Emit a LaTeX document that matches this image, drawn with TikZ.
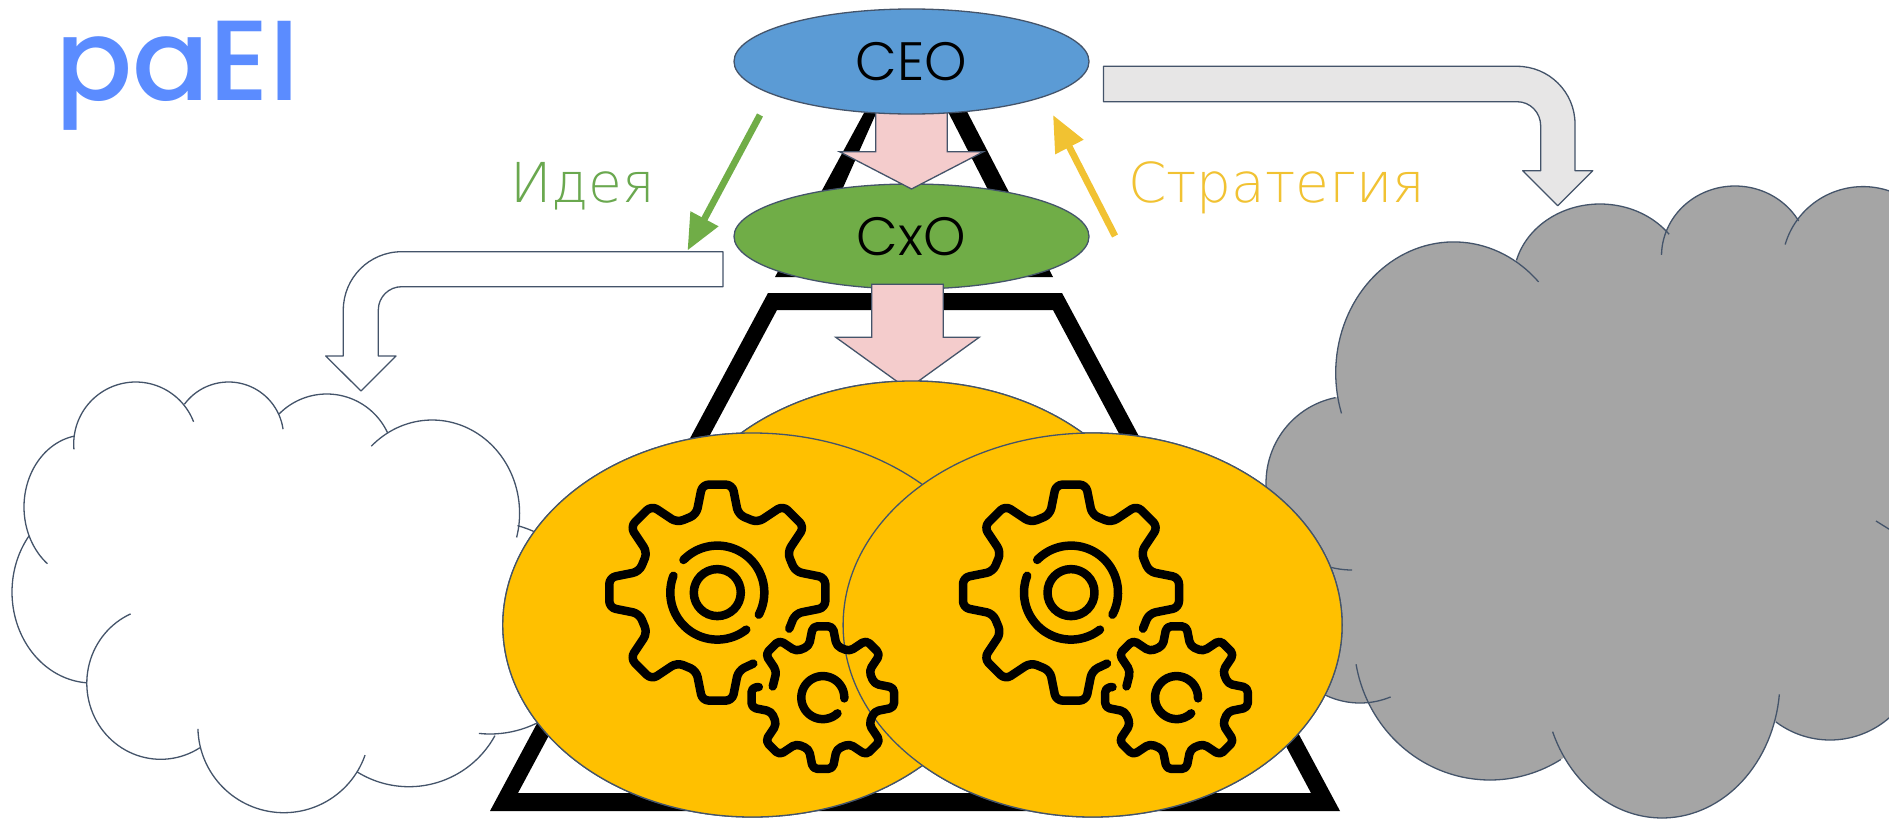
\documentclass[tikz,border=0pt]{standalone}
\usepackage{fontspec}
\usetikzlibrary{shapes.geometric,arrows.meta,calc}
\newfontfamily\logofont{Poppins Medium}
\newfontfamily\lightfont{Poppins Light}
\newfontfamily\cyrfont{DejaVu Sans ExtraLight}
\definecolor{outl}{HTML}{44546A}
\definecolor{ceoblue}{HTML}{5B9BD5}
\definecolor{cxogreen}{HTML}{70AD47}
\definecolor{gold}{HTML}{FFC000}
\definecolor{pinkfill}{HTML}{F4CCCC}
\definecolor{cloudgray}{HTML}{A5A5A5}
\definecolor{arrowgray}{HTML}{E7E6E6}
\definecolor{ideagreen}{HTML}{6AA84F}
\definecolor{stratyellow}{HTML}{F1C232}
\definecolor{logoblue}{HTML}{5B8CFF}
\newcommand\gp[3]{({(#1)*cos(#3)-(#2)*sin(#3)},{(#1)*sin(#3)+(#2)*cos(#3)})}
\newcommand\tooth[1]{-- \gp{78}{-21}{#1} -- \gp{108}{-15}{#1} -- \gp{108}{15}{#1} -- \gp{78}{21}{#1}}
\newcommand\geararc[5]{\draw[gearline] plot[domain=#4:#5,samples=50,variable=\t] ({#1+#3*cos(\t)},{#2+#3*sin(\t)});}
\newcommand\geargroup[1]{%
  \begin{scope}[shift={(#1,592.6)}]
    \draw[gearline,rounded corners=6.5pt] (36,71) \tooth{90}\tooth{135}\tooth{180}\tooth{225}\tooth{270}\tooth{315}\tooth{360} -- (72,36);
    \draw[gearline] (0,0) circle[radius=23.5pt];
    \geararc{0}{0}{47}{224}{388}
    \geararc{0}{0}{47}{52}{201}
    \begin{scope}[shift={(105.5,105)},scale=.66]
      \draw[gearline,rounded corners=4.5pt] (-75.8,-17) \tooth{225}\tooth{270}\tooth{315}\tooth{360}\tooth{45}\tooth{90}\tooth{135}
        -- \gp{78}{-21}{180} -- \gp{108}{-15}{180} -- \gp{108}{15}{180} -- (-97,-16);
    \end{scope}
    \geararc{105.5}{105}{21.5}{47}{362}
  \end{scope}}
\newcommand\vblock[5]{\draw[blockarrow] let \p1=(#1),\p2=(#2) in
  ({\x1-#3pt},\y1) -- ({\x1+#3pt},\y1) -- ({\x1+#3pt},{\y2+#5pt}) -- ({\x1+#4pt},{\y2+#5pt}) -- (\x2,\y2)
  -- ({\x1-#4pt},{\y2+#5pt}) -- ({\x1-#3pt},{\y2+#5pt}) -- cycle;}
\def\graylobes{1453.7/372.9/118/131/162/316, 1600/280/86.5/76/195/323, 1735/256/73.5/70/181/330,
  1863/266.6/81/80/196/340, 1830/650/90/90/30/127, 1662/680/118/138/6/158,
  1490/640/136/140/58.6/170, 1360/623/80/80/67.5/150, 1352/483/86/87/90/259}
\def\whitelobes{85/507/61/72/128/260, 135.7/444/62/62/175/339, 228.6/437/55/55/216.6/351.8,
  326.8/461/67/67/224.5/335.3, 432.1/513.3/87.5/93.3/226/375, 490/628/106/106/-75/96,
  408.9/688.7/98/98/28.6/122, 283.9/726.7/86/86/19.3/178.5, 160.7/683.3/73.9/76/58/246,
  92/592/80/91/94/218}
\tikzset{
  gearline/.style={draw=black,line width=8.5pt,line cap=round,line join=round},
  thinline/.style={draw=outl,line width=1.3pt},
  blockarrow/.style={thinline,fill=pinkfill,line join=miter},
  oval/.style={ellipse,thinline,inner sep=0pt,outer sep=0pt},
  person/.style={oval,minimum width=355pt,minimum height=105pt,text=black,font=\lightfont\fontsize{54}{54}\selectfont},
  goldoval/.style={oval,fill=gold,minimum width=499pt,minimum height=384pt},
  labeltext/.style={inner sep=0pt,outer sep=0pt,anchor=base west},
  ink/.style={fill=black,even odd rule},
}
\begin{document}
\begin{tikzpicture}[x=1pt,y=-1pt,line join=round]
\useasboundingbox (0,0) rectangle (1889,819);
\fill[white] (0,0) rectangle (1889,819);
\clip (0,0) rectangle (1889,819);
% pyramid
\fill[ink] (871,100) -- (961,100) -- (1053,277) -- (775,277) -- cycle
           (882,100) -- (942,100) -- (1025,262) -- (810,262) -- cycle;
\fill[ink] (768,293) -- (1062,293) -- (1340,811) -- (490,811) -- cycle
           (777,310) -- (1053,310) -- (1311,793) -- (518,793) -- cycle;
% white cloud
\foreach \cx/\cy/\rx/\ry/\a/\b in \whitelobes {
  \draw[thinline] plot[domain=\a:\b,samples=60,variable=\t] ({\cx+\rx*cos(\t)},{\cy+\ry*sin(\t)});
}
% gray cloud
\fill[cloudgray] (1340,400) -- (1450,290) -- (1600,280) -- (1735,256) -- (1889,266) -- (1889,716) -- (1830,700) -- (1660,760) -- (1490,700) -- (1360,650) -- (1330,560) -- cycle;
\foreach \cx/\cy/\rx/\ry/\a/\b in \graylobes {
  \fill[cloudgray] (\cx,\cy) ellipse[x radius=\rx pt,y radius=\ry pt];
}
\foreach \cx/\cy/\rx/\ry/\a/\b in \graylobes {
  \draw[thinline] plot[domain=\a:\b,samples=60,variable=\t] ({\cx+\rx*cos(\t)},{\cy+\ry*sin(\t)});
}
\draw[thinline] (1876,521) -- (1892,531);
% gold ovals
\node[goldoval] (goldtop) at (912,573) {};
\node[goldoval] (goldleft) at (752.3,625) {};
\node[goldoval] (goldright) at (1092.6,625) {};
% persons and flows
\node[person,fill=cxogreen] (cxo) at (911.5,236.5) {CxO};
\coordinate (p1s) at (911.5,110);
\coordinate (p1e) at (911.5,189);
\vblock{p1s}{p1e}{35.8}{72}{37.3}
\node[person,fill=ceoblue] (ceo) at (911.5,61.5) {CEO};
\coordinate (p2s) at (907.5,284.3);
\coordinate (p2e) at (907.5,389);
\begin{scope}[on background layer/.style={}]
\end{scope}
\vblock{p2s}{p2e}{35.8}{71.7}{51.7}
\node[goldoval] (goldtopB) at (912,573) {};
\node[goldoval] (goldleftB) at (752.3,625) {};
\node[goldoval] (goldrightB) at (1092.6,625) {};
% gears
\geargroup{717.3}
\geargroup{1071}
% gray bent arrow
\draw[thinline,fill=arrowgray,miter limit=10] (1103.5,66.3) -- (1517,66.3) .. controls (1549,66.3) and (1575,92) .. (1575,124)
  -- (1575,170.7) -- (1592.7,170.7) -- (1557.7,205.7) -- (1522.7,170.7) -- (1540.7,170.7) -- (1540.7,126)
  .. controls (1540.7,112.6) and (1530.4,101.7) .. (1517,101.7) -- (1103.5,101.7) -- cycle;
% white bent arrow
\draw[thinline,fill=white] (723,251.7) -- (401.7,251.7) .. controls (369.4,251.7) and (343.3,277.8) .. (343.3,310)
  -- (343.3,356) -- (325.7,356) -- (361,391) -- (396,356) -- (378.3,356) -- (378.3,310)
  .. controls (378.3,297) and (388.8,286.7) .. (401.7,286.7) -- (723,286.7) -- cycle;
% idea and strategy arrows
\coordinate (ideaS) at (760,115);
\coordinate (ideaE) at (687.5,250.5);
\draw[cxogreen,line width=6.7pt,-{Triangle[length=36pt,width=30pt]}] (ideaS) -- (ideaE);
\coordinate (stratS) at (1115,236);
\coordinate (stratE) at (1053,115);
\draw[stratyellow,line width=6.7pt,-{Triangle[length=36pt,width=30pt]}] (stratS) -- (stratE);
% texts
\node[labeltext,text=ideagreen,font=\cyrfont\fontsize{55}{55}\selectfont] (idea) at (510,202.3) {Идея};
\node[labeltext,text=stratyellow,font=\cyrfont\fontsize{55}{55}\selectfont] (strat) at (1128,202.3) {Стратегия};
\node[labeltext,text=logoblue,font=\logofont\fontsize{114}{114}\selectfont] (logo) at (55,100) {paEI};
\end{tikzpicture}
\end{document}
